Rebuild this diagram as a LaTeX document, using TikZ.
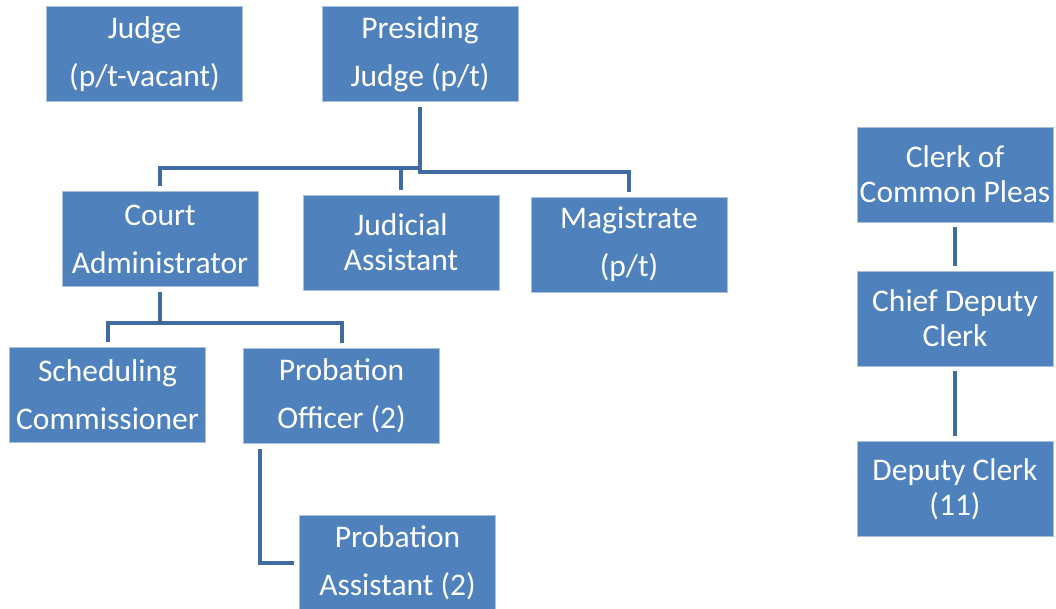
\documentclass[tikz,border=0pt]{standalone}
\usepackage{fontspec}
\setmainfont{Carlito}
\usetikzlibrary{calc}
\definecolor{BoxFill}{HTML}{4F81BD}
\definecolor{BoxEdge}{HTML}{A9C1E0}
\definecolor{LinkBlue}{HTML}{3F6B9F}
\begin{document}
\begin{tikzpicture}[x=1pt,y=-1pt,every node/.style={text=white},box/.style={draw=BoxEdge,fill=BoxFill,line width=0.8pt,minimum width=196pt,minimum height=95pt,inner sep=0pt,align=center,font=\fontsize{31.5}{48}\selectfont},tightbox/.style={box,font=\fontsize{31.5}{35}\selectfont},link/.style={draw=LinkBlue,line width=4pt,shorten <=5pt,shorten >=5pt}]
\useasboundingbox (0,0) rectangle (1056,608);
\node[box](judge) at (144.5,54){Judge\\(p/t-vacant)};\node[box](presjudge) at (420,54){Presiding\\Judge (p/t)};
\node[box](courtadm) at (160,239){Court\\Administrator};\node[tightbox](judasst) at (401,242.5){Judicial\\Assistant};\node[box](magistrate) at (629,244.5){Magistrate\\(p/t)};
\node[box](schedcomm) at (107.5,395){Scheduling\\Commissioner};\node[box](proboff) at (341.5,396){Probation\\Officer (2)};\node[box](probasst) at (397.5,563){Probation\\Assistant (2)};
\node[tightbox](clerkcp) at (955,174.5){Clerk of\\Common Pleas};\node[tightbox](chiefdep) at (955,318.5){Chief Deputy\\Clerk};\node[tightbox](deputy) at (955,489){Deputy Clerk\\(11)};
\draw[link](presjudge.south)--(presjudge.south|-0,168)-|(courtadm.north);\draw[link](presjudge.south)--(presjudge.south|-0,168)-|(judasst.north);\draw[link](presjudge.south)--(presjudge.south|-0,172)-|(magistrate.north);
\draw[link](courtadm.south)--(courtadm.south|-0,323)-|(schedcomm.north);\draw[link](courtadm.south)--(courtadm.south|-0,323)-|(proboff.north);
\draw[link]([xshift=17pt]proboff.south west)|-(probasst.west);
\draw[link](clerkcp.south)--(chiefdep.north);\draw[link](chiefdep.south)--(deputy.north);
\end{tikzpicture}
\end{document}
